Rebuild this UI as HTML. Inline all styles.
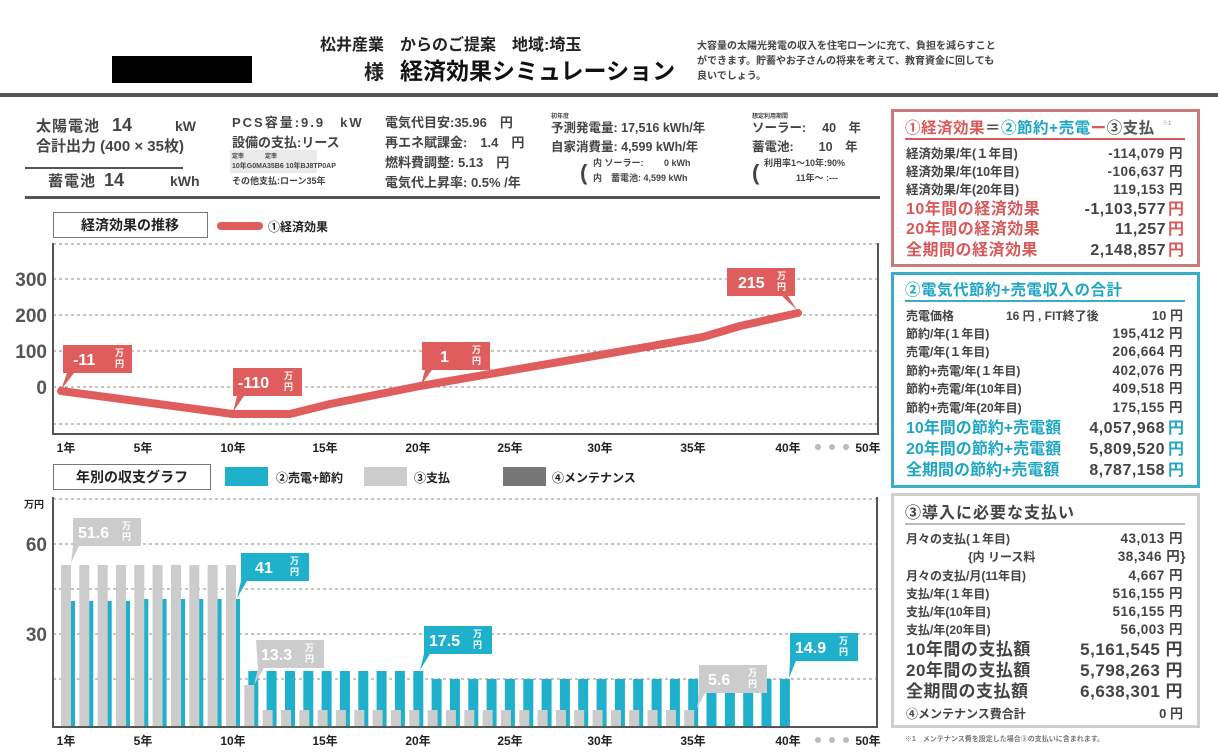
<!DOCTYPE html>
<html><head><meta charset="utf-8"><style>
html,body{margin:0;padding:0;background:#fff;width:1218px;height:756px;overflow:hidden}
svg{display:block}
text{font-family:"Liberation Sans","Noto Sans CJK JP",sans-serif;font-weight:bold}
.g{fill:#444}
</style></head><body>
<svg width="1218" height="756" viewBox="0 0 1218 756" xmlns="http://www.w3.org/2000/svg">
<!-- header -->
<text x="320" y="50" font-size="16" fill="#222">松井産業　からのご提案　地域:埼玉</text>
<rect x="112" y="56" width="140" height="27" fill="#000"/>
<text x="364" y="79" font-size="20" fill="#222">様</text>
<text x="400" y="79" font-size="23" fill="#111">経済効果シミュレーション</text>
<text font-size="10" fill="#444" font-weight="normal"><tspan x="697" y="49">大容量の太陽光発電の収入を住宅ローンに充て、負担を減らすこと</tspan><tspan x="697" y="64">ができます。貯蓄やお子さんの将来を考えて、教育資金に回しても</tspan><tspan x="697" y="79">良いでしょう。</tspan></text>
<rect x="0" y="93" width="1218" height="4" fill="#555"/>

<!-- info row -->
<g class="g">
<text x="36" y="131" font-size="15" letter-spacing="1">太陽電池</text><text x="112" y="131" font-size="18">14</text><text x="175" y="131" font-size="14">kW</text>
<text x="36" y="151" font-size="15">合計出力 (400 × 35枚)</text>
<rect x="25" y="167" width="158" height="2" fill="#555"/>
<text x="48" y="186" font-size="15" letter-spacing="1">蓄電池</text><text x="104" y="186" font-size="18">14</text><text x="170" y="186" font-size="14">kWh</text>

<text x="232" y="127" font-size="13" letter-spacing="2">PCS容量:9.9　kW</text>
<text x="232" y="147" font-size="13">設備の支払:リース</text>
<rect x="230" y="150" width="87" height="23" fill="#eaeaea"/>
<text x="232" y="158" font-size="6">定率</text><text x="265" y="158" font-size="6">定率</text>
<text x="232" y="168" font-size="7">10年G0MA35B6 10年BJ8TP0AP</text>
<text x="232" y="184" font-size="9">その他支払:ローン35年</text>

<text x="385" y="127" font-size="13">電気代目安:35.96　円</text>
<text x="385" y="147" font-size="13">再エネ賦課金:　1.4　円</text>
<text x="385" y="167" font-size="13">燃料費調整:  5.13　円</text>
<text x="385" y="187" font-size="13">電気代上昇率: 0.5% /年</text>

<text x="551" y="118" font-size="6">初年度</text>
<text x="551" y="132" font-size="12.5">予測発電量: 17,516 kWh/年</text>
<text x="551" y="151" font-size="12.5">自家消費量:  4,599 kWh/年</text>
<text x="580" y="180" font-size="22" font-weight="normal">(</text>
<text x="593" y="166" font-size="9">内 ソーラー:　　 0  kWh</text>
<text x="593" y="181" font-size="9">内　蓄電池: 4,599  kWh</text>

<text x="752" y="118" font-size="6">想定利用期間</text>
<text x="752" y="132" font-size="12.5">ソーラー:　 40　年</text>
<text x="752" y="151" font-size="12.5">蓄電池:　　10　年</text>
<text x="752" y="180" font-size="22" font-weight="normal">(</text>
<text x="764" y="166" font-size="9">利用率1～10年:90%</text>
<text x="796" y="181" font-size="9">11年～ :---</text>
</g>
<rect x="25" y="196" width="855" height="3" fill="#555"/>

<!-- line chart -->
<rect x="53.5" y="212.5" width="154" height="25" fill="#fff" stroke="#777"/>
<text x="130" y="230" font-size="14" text-anchor="middle" fill="#222">経済効果の推移</text>
<line x1="221" y1="226" x2="259" y2="226" stroke="#e05d5d" stroke-width="8" stroke-linecap="round"/>
<text x="268" y="231" font-size="12" font-weight="normal" fill="#222">①経済効果</text>
<g stroke="#888" stroke-dasharray="3,3" stroke-width="1">
<line x1="53" y1="244" x2="878" y2="244"/><line x1="53" y1="279" x2="878" y2="279"/><line x1="53" y1="315" x2="878" y2="315"/><line x1="53" y1="351" x2="878" y2="351"/><line x1="53" y1="387" x2="878" y2="387"/><line x1="53" y1="424" x2="878" y2="424"/>
</g>
<path d="M53 243 V434 H878 V243" fill="none" stroke="#555" stroke-width="2"/>
<g font-size="19" fill="#555" text-anchor="end">
<text x="47" y="286">300</text><text x="47" y="322">200</text><text x="47" y="358">100</text><text x="47" y="394">0</text>
</g>
<g font-size="12" fill="#222" text-anchor="middle">
<text x="66" y="452">1年</text><text x="143" y="452">5年</text><text x="233" y="452">10年</text><text x="325" y="452">15年</text><text x="418" y="452">20年</text><text x="510" y="452">25年</text><text x="600" y="452">30年</text><text x="693" y="452">35年</text><text x="788" y="452">40年</text><text x="868" y="452">50年</text>
</g>
<g fill="#bbb"><circle cx="818" cy="447" r="3"/><circle cx="832" cy="447" r="3"/><circle cx="846" cy="447" r="3"/></g>
<polyline points="61,391 233,414 290,414 330,404 420,386 600,355 703,337 740,326 798,313" fill="none" stroke="#e05d5d" stroke-width="8" stroke-linecap="round" stroke-linejoin="round"/>

<g fill="#fff">
<path d="M63 345h69v28h-58l-13 17 6-17h-4z" fill="#e05d5d"/><text x="73" y="365" font-size="16">-11</text><text x="115" y="356" font-size="9">万</text><text x="115" y="367" font-size="9">円</text>
<path d="M233 368h69v28h-58l-11 16 4-16h-4z" fill="#e05d5d"/><text x="238" y="388" font-size="16">-110</text><text x="284" y="379" font-size="9">万</text><text x="284" y="390" font-size="9">円</text>
<path d="M422 342h68v28h-58l-11 15 4-15h-3z" fill="#e05d5d"/><text x="440" y="362" font-size="16">1</text><text x="472" y="353" font-size="9">万</text><text x="472" y="364" font-size="9">円</text>
<path d="M727 268h68v28h-7l9 14-15-14h-55z" fill="#e05d5d"/><text x="738" y="288" font-size="16">215</text><text x="777" y="279" font-size="9">万</text><text x="777" y="290" font-size="9">円</text>
</g>

<!-- bar legend -->
<rect x="53.5" y="464.5" width="157" height="25" fill="#fff" stroke="#777"/>
<text x="132" y="482" font-size="14" text-anchor="middle" fill="#222">年別の収支グラフ</text>
<rect x="225" y="467" width="43" height="19" fill="#1fb0cc"/><text x="276" y="482" font-size="12" font-weight="normal" fill="#222">②売電+節約</text>
<rect x="364" y="467" width="43" height="19" fill="#cccccc"/><text x="414" y="482" font-size="12" font-weight="normal" fill="#222">③支払</text>
<rect x="503" y="467" width="43" height="19" fill="#777"/><text x="552" y="482" font-size="12" font-weight="normal" fill="#222">④メンテナンス</text>

<!-- bar chart -->
<g stroke="#888" stroke-dasharray="3,3" stroke-width="1">
<line x1="53" y1="499" x2="877" y2="499"/><line x1="53" y1="544" x2="877" y2="544"/><line x1="53" y1="589" x2="877" y2="589"/><line x1="53" y1="634" x2="877" y2="634"/><line x1="53" y1="679" x2="877" y2="679"/>
</g>
<text x="24" y="508" font-size="10" fill="#222">万円</text>
<text x="47" y="551" font-size="19" fill="#555" text-anchor="end">60</text>
<text x="47" y="641" font-size="19" fill="#555" text-anchor="end">30</text>
<g id="bars"></g>
<path d="M53 497 V727 H877 V497" fill="none" stroke="#555" stroke-width="2"/>
<g font-size="12" fill="#222" text-anchor="middle">
<text x="66" y="745">1年</text><text x="143" y="745">5年</text><text x="233" y="745">10年</text><text x="325" y="745">15年</text><text x="418" y="745">20年</text><text x="510" y="745">25年</text><text x="600" y="745">30年</text><text x="693" y="745">35年</text><text x="788" y="745">40年</text><text x="868" y="745">50年</text>
</g>
<g fill="#bbb"><circle cx="818" cy="740" r="3"/><circle cx="832" cy="740" r="3"/><circle cx="846" cy="740" r="3"/></g>

<g fill="#fff">
<path d="M73 518h68v28h-62l-8 17 2-17h0z" fill="#cccccc"/><text x="78" y="538" font-size="16">51.6</text><text x="122" y="529" font-size="9">万</text><text x="122" y="540" font-size="9">円</text>
<path d="M241 553h68v28h-62l-10 17 4-17z" fill="#1fb0cc"/><text x="255" y="573" font-size="16">41</text><text x="290" y="564" font-size="9">万</text><text x="290" y="575" font-size="9">円</text>
<path d="M256 640h68v28h-60l-10 17 4-17z" fill="#cccccc"/><text x="261" y="660" font-size="16">13.3</text><text x="305" y="651" font-size="9">万</text><text x="305" y="662" font-size="9">円</text>
<path d="M424 626h68v28h-62l-10 16 4-16z" fill="#1fb0cc"/><text x="429" y="646" font-size="16">17.5</text><text x="473" y="637" font-size="9">万</text><text x="473" y="648" font-size="9">円</text>
<path d="M699 665h68v28h-62l-8 15 2-15z" fill="#cccccc"/><text x="708" y="685" font-size="16">5.6</text><text x="748" y="676" font-size="9">万</text><text x="748" y="687" font-size="9">円</text>
<path d="M790 633h68v28h-62l-7 17 1-17z" fill="#1fb0cc"/><text x="795" y="653" font-size="16">14.9</text><text x="839" y="644" font-size="9">万</text><text x="839" y="655" font-size="9">円</text>
</g>

<!-- panel 1 -->
<rect x="892.5" y="110.5" width="306" height="155" fill="none" stroke="#c97b78" stroke-width="3"/>
<text x="905" y="133" font-size="15.5" letter-spacing="0.5"><tspan fill="#d9595a">①経済効果</tspan><tspan fill="#555">＝</tspan><tspan fill="#1fa6c2">②節約+売電</tspan><tspan fill="#d9595a">ー</tspan><tspan fill="#555">③支払</tspan></text>
<text x="1162" y="125" font-size="6" fill="#aaa">※1</text>
<rect x="905" y="138" width="280" height="2" fill="#d9595a"/>
<g font-size="12.5" fill="#444">
<text x="906" y="158">経済効果/年(１年目)</text><text x="1183" y="158" text-anchor="end" font-size="13.5" letter-spacing="0.5">-114,079 円</text>
<text x="906" y="176">経済効果/年(10年目)</text><text x="1183" y="176" text-anchor="end" font-size="13.5" letter-spacing="0.5">-106,637 円</text>
<text x="906" y="194">経済効果/年(20年目)</text><text x="1183" y="194" text-anchor="end" font-size="13.5" letter-spacing="0.5">119,153 円</text>
</g>
<g font-size="16">
<text x="906" y="214" fill="#d9595a" letter-spacing="0.5">10年間の経済効果</text><text x="1166" y="214" text-anchor="end" fill="#444" letter-spacing="0.5">-1,103,577</text><text x="1168" y="214" fill="#d9595a">円</text>
<text x="906" y="234" fill="#d9595a" letter-spacing="0.5">20年間の経済効果</text><text x="1166" y="234" text-anchor="end" fill="#444" letter-spacing="0.5">11,257</text><text x="1168" y="234" fill="#d9595a">円</text>
<text x="906" y="255" fill="#d9595a" letter-spacing="0.5">全期間の経済効果</text><text x="1166" y="255" text-anchor="end" fill="#444" letter-spacing="0.5">2,148,857</text><text x="1168" y="255" fill="#d9595a">円</text>
</g>

<!-- panel 2 -->
<rect x="892.5" y="273.5" width="306" height="213" fill="none" stroke="#3aaec8" stroke-width="3"/>
<text x="905" y="295" font-size="15.5" letter-spacing="0.5" fill="#1fa6c2">②電気代節約+売電収入の合計</text>
<rect x="905" y="300" width="280" height="2" fill="#3aaec8"/>
<g font-size="12" fill="#444">
<text x="906" y="320">売電価格</text><text x="1006" y="320">16 円 , FIT終了後</text><text x="1183" y="320" text-anchor="end" font-size="13">10 円</text>
<text x="906" y="338">節約/年(１年目)</text><text x="1183" y="338" text-anchor="end" font-size="13.5" letter-spacing="0.5">195,412 円</text>
<text x="906" y="356">売電/年(１年目)</text><text x="1183" y="356" text-anchor="end" font-size="13.5" letter-spacing="0.5">206,664 円</text>
<text x="906" y="375">節約+売電/年(１年目)</text><text x="1183" y="375" text-anchor="end" font-size="13.5" letter-spacing="0.5">402,076 円</text>
<text x="906" y="393">節約+売電/年(10年目)</text><text x="1183" y="393" text-anchor="end" font-size="13.5" letter-spacing="0.5">409,518 円</text>
<text x="906" y="412">節約+売電/年(20年目)</text><text x="1183" y="412" text-anchor="end" font-size="13.5" letter-spacing="0.5">175,155 円</text>
</g>
<g font-size="16">
<text x="906" y="433" fill="#1fa6c2">10年間の節約+売電額</text><text x="1165" y="433" text-anchor="end" fill="#444" letter-spacing="0.5">4,057,968</text><text x="1168" y="433" fill="#1fa6c2">円</text>
<text x="906" y="454" fill="#1fa6c2">20年間の節約+売電額</text><text x="1165" y="454" text-anchor="end" fill="#444" letter-spacing="0.5">5,809,520</text><text x="1168" y="454" fill="#1fa6c2">円</text>
<text x="906" y="475" fill="#1fa6c2">全期間の節約+売電額</text><text x="1165" y="475" text-anchor="end" fill="#444" letter-spacing="0.5">8,787,158</text><text x="1168" y="475" fill="#1fa6c2">円</text>
</g>

<!-- panel 3 -->
<rect x="892.5" y="494.5" width="306" height="232" fill="none" stroke="#cfcfcf" stroke-width="3"/>
<text x="905" y="518" font-size="16" letter-spacing="1" fill="#444">③導入に必要な支払い</text>
<rect x="905" y="523" width="280" height="2" fill="#bbb"/>
<g font-size="12" fill="#444">
<text x="906" y="543">月々の支払(１年目)</text><text x="1183" y="543" text-anchor="end" font-size="13.5" letter-spacing="0.5">43,013 円</text>
<text x="968" y="561">{内 リース料</text><text x="1186" y="561" text-anchor="end" font-size="13.5" letter-spacing="0.5">38,346 円}</text>
<text x="906" y="580">月々の支払/月(11年目)</text><text x="1183" y="580" text-anchor="end" font-size="13.5" letter-spacing="0.5">4,667 円</text>
<text x="906" y="598">支払/年(１年目)</text><text x="1183" y="598" text-anchor="end" font-size="13.5" letter-spacing="0.5">516,155 円</text>
<text x="906" y="616">支払/年(10年目)</text><text x="1183" y="616" text-anchor="end" font-size="13.5" letter-spacing="0.5">516,155 円</text>
<text x="906" y="634">支払/年(20年目)</text><text x="1183" y="634" text-anchor="end" font-size="13.5" letter-spacing="0.5">56,003 円</text>
</g>
<g font-size="17" fill="#444">
<text x="906" y="655" letter-spacing="0.5">10年間の支払額</text><text x="1183" y="655" text-anchor="end" letter-spacing="0.5">5,161,545 円</text>
<text x="906" y="676" letter-spacing="0.5">20年間の支払額</text><text x="1183" y="676" text-anchor="end" letter-spacing="0.5">5,798,263 円</text>
<text x="906" y="697" letter-spacing="0.5">全期間の支払額</text><text x="1183" y="697" text-anchor="end" letter-spacing="0.5">6,638,301 円</text>
</g>
<text x="906" y="718" font-size="12" fill="#444">④メンテナンス費合計</text><text x="1183" y="718" font-size="13" fill="#444" text-anchor="end">0 円</text>
<text x="905" y="741" font-size="7" font-weight="normal" fill="#777">※1　メンテナンス費を設定した場合③の支払いに含まれます。</text>
</svg>
<script>
(function(){
var g=document.getElementById('bars'),s='';
for(var i=1;i<=40;i++){
 var x=61+(i-1)*18.33;
 var bt=i<=4?601:(i<=10?599:(i<=20?671:679));
 s+='<rect x="'+(x+4).toFixed(1)+'" y="'+bt+'" width="10" height="'+(727-bt)+'" fill="#1fb0cc"/>';
 var gt=null;
 if(i<=10)gt=565;else if(i==11)gt=685;else if(i<=35)gt=710;
 if(gt)s+='<rect x="'+x.toFixed(1)+'" y="'+gt+'" width="10" height="'+(727-gt)+'" fill="#cccccc"/>';
}
g.innerHTML=s;
})();
</script>
</body></html>
